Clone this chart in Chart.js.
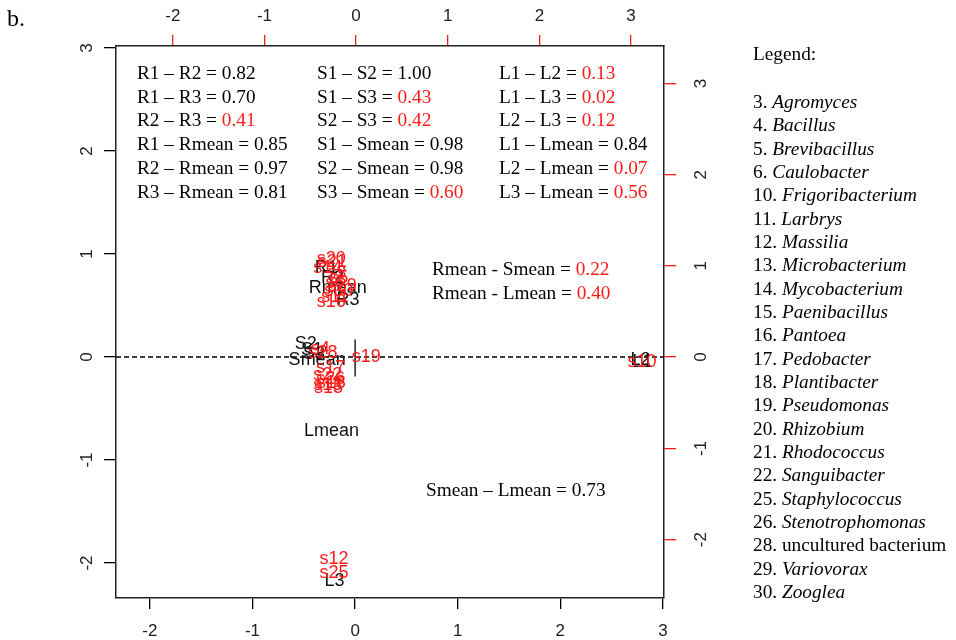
<!DOCTYPE html>
<html>
<head>
<meta charset="utf-8">
<script src="https://cdn.jsdelivr.net/npm/chart.js@4.4.1/dist/chart.umd.min.js"></script>
<style>
  html, body { margin: 0; padding: 0; background: #fff; }
  #wrap { width: 956px; height: 640px; }
</style>
</head>
<body>
<div id="wrap"><canvas id="c" width="956" height="640"></canvas></div>
<script>
// ---------- data ----------
// variables (black labels), bottom/left axes
const varLabels = ['R1', 'R2', 'R3', 'Rmean', 'S1', 'S2', 'S3', 'Smean', 'L1', 'L2', 'L3', 'Lmean'];
const varX = [-0.28, -0.22, -0.07, -0.17, -0.42, -0.48, -0.40, -0.37, 2.80, 2.78, -0.20, -0.23];
const varY = [0.86, 0.77, 0.55, 0.67, 0.07, 0.13, 0.03, -0.03, -0.05, -0.03, -2.18, -0.72];

// samples (red labels), top/right axes
const sampleLabels = ['s20', 's21', 's14', 's3', 's5', 's6', 's29', 's30', 's11', 's16',
                      's4', 's28', 's17', 's22', 's26', 's18', 's13', 's15',
                      's19', 's10', 's12', 's25'];
const sampleX = [-0.27, -0.26, -0.31, -0.21, -0.19, -0.23, -0.15, -0.19, -0.23, -0.27,
                 -0.39, -0.36, -0.28, -0.31, -0.28, -0.27, -0.31, -0.30,
                 0.11, 3.12, -0.24, -0.24];
const sampleY = [1.08, 1.04, 0.98, 0.92, 0.87, 0.81, 0.78, 0.72, 0.66, 0.60,
                 0.09, 0.05, -0.12, -0.20, -0.24, -0.28, -0.31, -0.34,
                 0.00, -0.05, -2.21, -2.37];

// short vertical segment at origin
const segX = [0, 0];
const segY = [0.17, -0.19];

// axis ranges
const bottomRange = [-2.33, 3.01];
const leftRange = [-2.34, 3.02];
const topRange = [-2.62, 3.36];
const rightRange = [-2.64, 3.41];

// correlation text
const corrCol1 = [['R1 – R2 = ', '0.82', 0], ['R1 – R3 = ', '0.70', 0], ['R2 – R3 = ', '0.41', 1],
                  ['R1 – Rmean = ', '0.85', 0], ['R2 – Rmean = ', '0.97', 0], ['R3 – Rmean = ', '0.81', 0]];
const corrCol2 = [['S1 – S2 = ', '1.00', 0], ['S1 – S3 = ', '0.43', 1], ['S2 – S3 = ', '0.42', 1],
                  ['S1 – Smean = ', '0.98', 0], ['S2 – Smean = ', '0.98', 0], ['S3 – Smean = ', '0.60', 1]];
const corrCol3 = [['L1 – L2 = ', '0.13', 1], ['L1 – L3 = ', '0.02', 1], ['L2 – L3 = ', '0.12', 1],
                  ['L1 – Lmean = ', '0.84', 0], ['L2 – Lmean = ', '0.07', 1], ['L3 – Lmean = ', '0.56', 1]];
const meanCorr = [['Rmean - Smean = ', '0.22', 1], ['Rmean - Lmean = ', '0.40', 1]];
const meanCorr2 = [['Smean – Lmean = ', '0.73', 0]];

// legend
const legendNums = ['3.', '4.', '5.', '6.', '10.', '11.', '12.', '13.', '14.', '15.', '16.',
                    '17.', '18.', '19.', '20.', '21.', '22.', '25.', '26.', '28.', '29.', '30.'];
const legendNames = ['Agromyces', 'Bacillus', 'Brevibacillus', 'Caulobacter', 'Frigoribacterium',
                     'Larbrys', 'Massilia', 'Microbacterium', 'Mycobacterium', 'Paenibacillus',
                     'Pantoea', 'Pedobacter', 'Plantibacter', 'Pseudomonas', 'Rhizobium',
                     'Rhodococcus', 'Sanguibacter', 'Staphylococcus', 'Stenotrophomonas',
                     'uncultured bacterium', 'Variovorax', 'Zooglea'];
const legendItalic = legendNames.map(n => n !== 'uncultured bacterium');

// ---------- styling ----------
const RED = '#ff1a1a';
const SERIF = '"Liberation Serif", "Times New Roman", serif';
const SANS = '"Liberation Sans", Arial, sans-serif';
const TXT = '19.3px ';

const toPts = (xs, ys) => xs.map((x, i) => ({ x: x, y: ys[i] }));

const bgPlugin = {
  id: 'bg',
  beforeDraw(chart) {
    const ctx = chart.ctx;
    ctx.save();
    ctx.fillStyle = '#fff';
    ctx.fillRect(0, 0, chart.width, chart.height);
    ctx.restore();
  }
};

const zeroLinePlugin = {
  id: 'zeroLine',
  beforeDatasetsDraw(chart) {
    const ctx = chart.ctx, a = chart.chartArea;
    const y = chart.scales.y.getPixelForValue(0);
    ctx.save();
    ctx.strokeStyle = '#000';
    ctx.lineWidth = 1.3;
    ctx.setLineDash([5, 3]);
    ctx.beginPath();
    ctx.moveTo(a.left, y);
    ctx.lineTo(a.right, y);
    ctx.stroke();
    ctx.restore();
  }
};

const labelPlugin = {
  id: 'pointLabels',
  afterDatasetsDraw(chart) {
    const ctx = chart.ctx;
    chart.data.datasets.forEach((ds, i) => {
      if (!ds.pointLabels) return;
      const meta = chart.getDatasetMeta(i);
      ctx.save();
      ctx.font = '18px ' + SANS;
      ctx.fillStyle = ds.labelColor;
      ctx.textAlign = 'center';
      ctx.textBaseline = 'middle';
      meta.data.forEach((el, j) => ctx.fillText(ds.pointLabels[j], el.x, el.y));
      ctx.restore();
    });
  }
};

function drawPair(ctx, x, y, pre, val, red) {
  ctx.fillStyle = '#000';
  ctx.fillText(pre, x, y);
  const w = ctx.measureText(pre).width;
  ctx.fillStyle = red ? RED : '#000';
  ctx.fillText(val, x + w, y);
}

const textPlugin = {
  id: 'texts',
  afterDraw(chart) {
    const ctx = chart.ctx;
    ctx.save();
    ctx.textBaseline = 'middle';
    ctx.textAlign = 'left';
    ctx.font = TXT + SERIF;
    const rows = [74, 98, 121, 145, 169, 193];
    [[corrCol1, 137], [corrCol2, 317], [corrCol3, 499]].forEach(([col, x]) => {
      col.forEach((r, i) => drawPair(ctx, x, rows[i], r[0], r[1], r[2]));
    });
    meanCorr.forEach((r, i) => drawPair(ctx, 432, 270 + i * 24, r[0], r[1], r[2]));
    meanCorr2.forEach((r) => drawPair(ctx, 426, 491, r[0], r[1], r[2]));

    // panel tag
    ctx.fillStyle = '#000';
    ctx.font = '24px ' + SERIF;
    ctx.fillText('b.', 7, 20);

    // legend
    ctx.font = TXT + SERIF;
    ctx.fillText('Legend:', 753, 55);
    legendNums.forEach((n, i) => {
      const y = 103 + i * 23.33;
      ctx.font = TXT + SERIF;
      ctx.fillText(n + ' ', 753, y);
      const w = ctx.measureText(n + ' ').width;
      ctx.font = (legendItalic[i] ? 'italic ' : '') + TXT + SERIF;
      ctx.fillText(legendNames[i], 753 + w, y);
    });
    ctx.restore();
  }
};

const axisCommon = (color) => ({
  type: 'linear',
  ticks: {
    stepSize: 1,
    includeBounds: false,
    color: '#222',
    font: { family: SANS, size: 17 },
  },
  grid: { drawOnChartArea: false, drawTicks: true, color: color, lineWidth: 1.3 },
  border: { display: true, color: '#222', width: 1.5 }
});

function mk(pos, range, color, extra) {
  const s = axisCommon(color);
  s.position = pos;
  s.min = range[0];
  s.max = range[1];
  Object.assign(s.ticks, extra.ticks || {});
  Object.assign(s.grid, extra.grid || {});
  s.afterFit = extra.afterFit;
  return s;
}

new Chart(document.getElementById('c'), {
  type: 'scatter',
  data: {
    datasets: [
      {
        type: 'line', data: toPts(segX, segY), xAxisID: 'x', yAxisID: 'y',
        borderColor: '#000', borderWidth: 1.3, pointRadius: 0, fill: false
      },
      {
        data: toPts(varX, varY), xAxisID: 'x', yAxisID: 'y',
        pointRadius: 0, pointLabels: varLabels, labelColor: '#111'
      },
      {
        data: toPts(sampleX, sampleY), xAxisID: 'x2', yAxisID: 'y2',
        pointRadius: 0, pointLabels: sampleLabels, labelColor: RED
      }
    ]
  },
  options: {
    responsive: false,
    animation: false,
    devicePixelRatio: 1,
    layout: { padding: 0 },
    plugins: { legend: { display: false }, tooltip: { enabled: false } },
    scales: {
      x: mk('bottom', bottomRange, '#000', {
        ticks: { padding: 12 }, grid: { tickLength: 11 },
        afterFit: s => { s.height = 42; }
      }),
      x2: mk('top', topRange, RED, {
        ticks: { padding: 8 }, grid: { tickLength: 11 },
        afterFit: s => { s.height = 46; }
      }),
      y: mk('left', leftRange, '#000', {
        ticks: { padding: 9, minRotation: 90, maxRotation: 90, crossAlign: 'center' },
        grid: { tickLength: 12 },
        afterFit: s => { s.width = 116; }
      }),
      y2: mk('right', rightRange, RED, {
        ticks: { padding: 18, minRotation: 90, maxRotation: 90, crossAlign: 'center' },
        grid: { tickLength: 12 },
        afterFit: s => { s.width = 292; }
      })
    }
  },
  plugins: [bgPlugin, zeroLinePlugin, labelPlugin, textPlugin]
});
</script>
</body>
</html>
